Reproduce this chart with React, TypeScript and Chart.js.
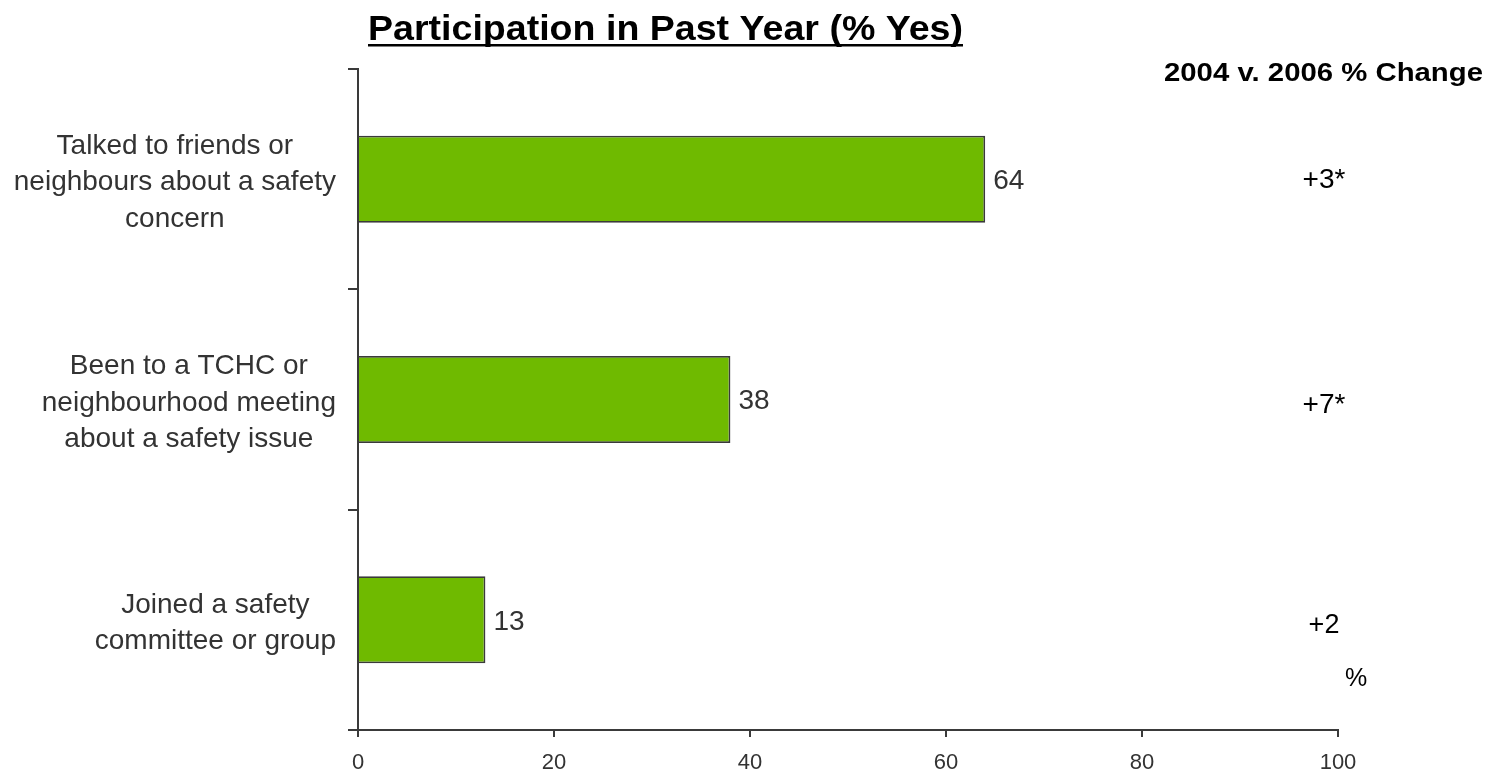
import React, { useEffect, useRef } from 'react';
import { Chart, registerables } from 'chart.js';

Chart.register(...registerables);

const categories: string[][] = [
  ['Talked to friends or', 'neighbours about a safety', 'concern'],
  ['Been to a TCHC or', 'neighbourhood meeting', 'about a safety issue'],
  ['Joined a safety', 'committee or group'],
];
const participation: number[] = [64, 38, 13];
const changeLabels: string[] = ['+3*', '+7*', '+2'];
const xTickValues: number[] = [0, 20, 40, 60, 80, 100];
const titleText = 'Participation in Past Year (% Yes)';
const changeHeader = '2004 v. 2006 % Change';
const unitNote = '%';

const FONT = '"Liberation Sans", Arial, Helvetica, sans-serif';
const AXIS_COLOR = '#3a3a3a';
const TEXT_COLOR = '#333333';

function drawStretched(
  ctx: CanvasRenderingContext2D,
  text: string,
  cx: number,
  baseline: number,
  targetWidth: number
) {
  const w = ctx.measureText(text).width;
  const sx = targetWidth / w;
  ctx.save();
  ctx.translate(cx, baseline);
  ctx.scale(sx, 1);
  ctx.textAlign = 'center';
  ctx.textBaseline = 'alphabetic';
  ctx.fillText(text, 0, 0);
  ctx.restore();
}

const annotationPlugin = {
  id: 'annotations',
  afterDraw(chart: any) {
    const ctx: CanvasRenderingContext2D = chart.ctx;
    const yScale = chart.scales.y;
    const xScale = chart.scales.x;
    const area = chart.chartArea;
    ctx.save();

    // Category labels (each block right-aligned, lines centred within block)
    ctx.font = `28px ${FONT}`;
    ctx.fillStyle = TEXT_COLOR;
    ctx.textAlign = 'center';
    ctx.textBaseline = 'alphabetic';
    categories.forEach((lines, i) => {
      const center = yScale.getPixelForValue(i);
      const maxW = Math.max(...lines.map((l) => ctx.measureText(l).width));
      const cx = area.left - 22 - maxW / 2;
      const n = lines.length;
      lines.forEach((line, j) => {
        const y = center + 11 + (j - (n - 1) / 2) * 36.5;
        ctx.fillText(line, cx, y);
      });
    });

    // Value labels at bar ends
    ctx.font = `28px ${FONT}`;
    ctx.fillStyle = TEXT_COLOR;
    ctx.textAlign = 'left';
    ctx.textBaseline = 'middle';
    participation.forEach((v, i) => {
      const x = xScale.getPixelForValue(v) + 8;
      const y = yScale.getPixelForValue(i) + 2;
      ctx.fillText(String(v), x, y);
    });

    // Change column
    ctx.fillStyle = '#000000';
    ctx.textAlign = 'center';
    ctx.textBaseline = 'alphabetic';
    const changeSizes = [28, 28, 27];
    const changeOffsets = [9, 13, 13];
    changeLabels.forEach((t, i) => {
      ctx.font = `${changeSizes[i]}px ${FONT}`;
      ctx.fillText(t, area.right - 14, yScale.getPixelForValue(i) + changeOffsets[i]);
    });
    ctx.font = `25px ${FONT}`;
    ctx.fillText(unitNote, area.right + 18, yScale.getPixelForValue(2) + 66);

    // Change header
    ctx.font = `bold 26px ${FONT}`;
    drawStretched(ctx, changeHeader, 1323.5, 81, 319);

    // Title with underline
    ctx.font = `bold 35px ${FONT}`;
    drawStretched(ctx, titleText, 665.5, 40, 595);
    ctx.fillRect(368, 44, 595, 2.5);

    ctx.restore();
  },
};

export default function App() {
  const canvasRef = useRef<HTMLCanvasElement | null>(null);

  useEffect(() => {
    if (!canvasRef.current) return;
    const chart = new Chart(canvasRef.current, {
      type: 'bar',
      data: {
        labels: categories.map((c) => c.join(' ')),
        datasets: [
          {
            data: participation,
            backgroundColor: '#6fba00',
            borderColor: '#3a3a3a',
            borderWidth: 1.8,
            barPercentage: 0.395,
            categoryPercentage: 1,
          },
        ],
      },
      options: {
        indexAxis: 'y',
        responsive: false,
        animation: false,
        devicePixelRatio: 1,
        layout: { padding: { top: 69, right: 151, bottom: 0, left: 0 } },
        plugins: {
          legend: { display: false },
          title: { display: false },
          tooltip: { enabled: false },
        },
        scales: {
          x: {
            type: 'linear',
            min: 0,
            max: 100,
            afterBuildTicks: (scale: any) => {
              scale.ticks = xTickValues.map((v) => ({ value: v }));
            },
            afterFit: (scale: any) => {
              scale.height = 44;
            },
            grid: {
              drawOnChartArea: false,
              drawTicks: true,
              tickLength: 7,
              color: AXIS_COLOR,
              lineWidth: 2,
            },
            border: { display: true, color: AXIS_COLOR, width: 2 },
            ticks: {
              color: TEXT_COLOR,
              font: { family: FONT, size: 22 },
              padding: 13,
              maxRotation: 0,
            },
          },
          y: {
            type: 'category',
            afterFit: (scale: any) => {
              scale.width = 358;
            },
            grid: {
              offset: true,
              drawOnChartArea: false,
              drawTicks: true,
              tickLength: 10,
              color: AXIS_COLOR,
              lineWidth: 2,
            },
            border: { display: true, color: AXIS_COLOR, width: 2 },
            ticks: { display: false },
          },
        },
      },
      plugins: [annotationPlugin],
    });
    return () => chart.destroy();
  }, []);

  return (
    <div style={{ position: 'absolute', left: 0, top: 0, width: 1489, height: 774, background: '#ffffff' }}>
      <canvas ref={canvasRef} width={1489} height={774} style={{ display: 'block' }} />
    </div>
  );
}
